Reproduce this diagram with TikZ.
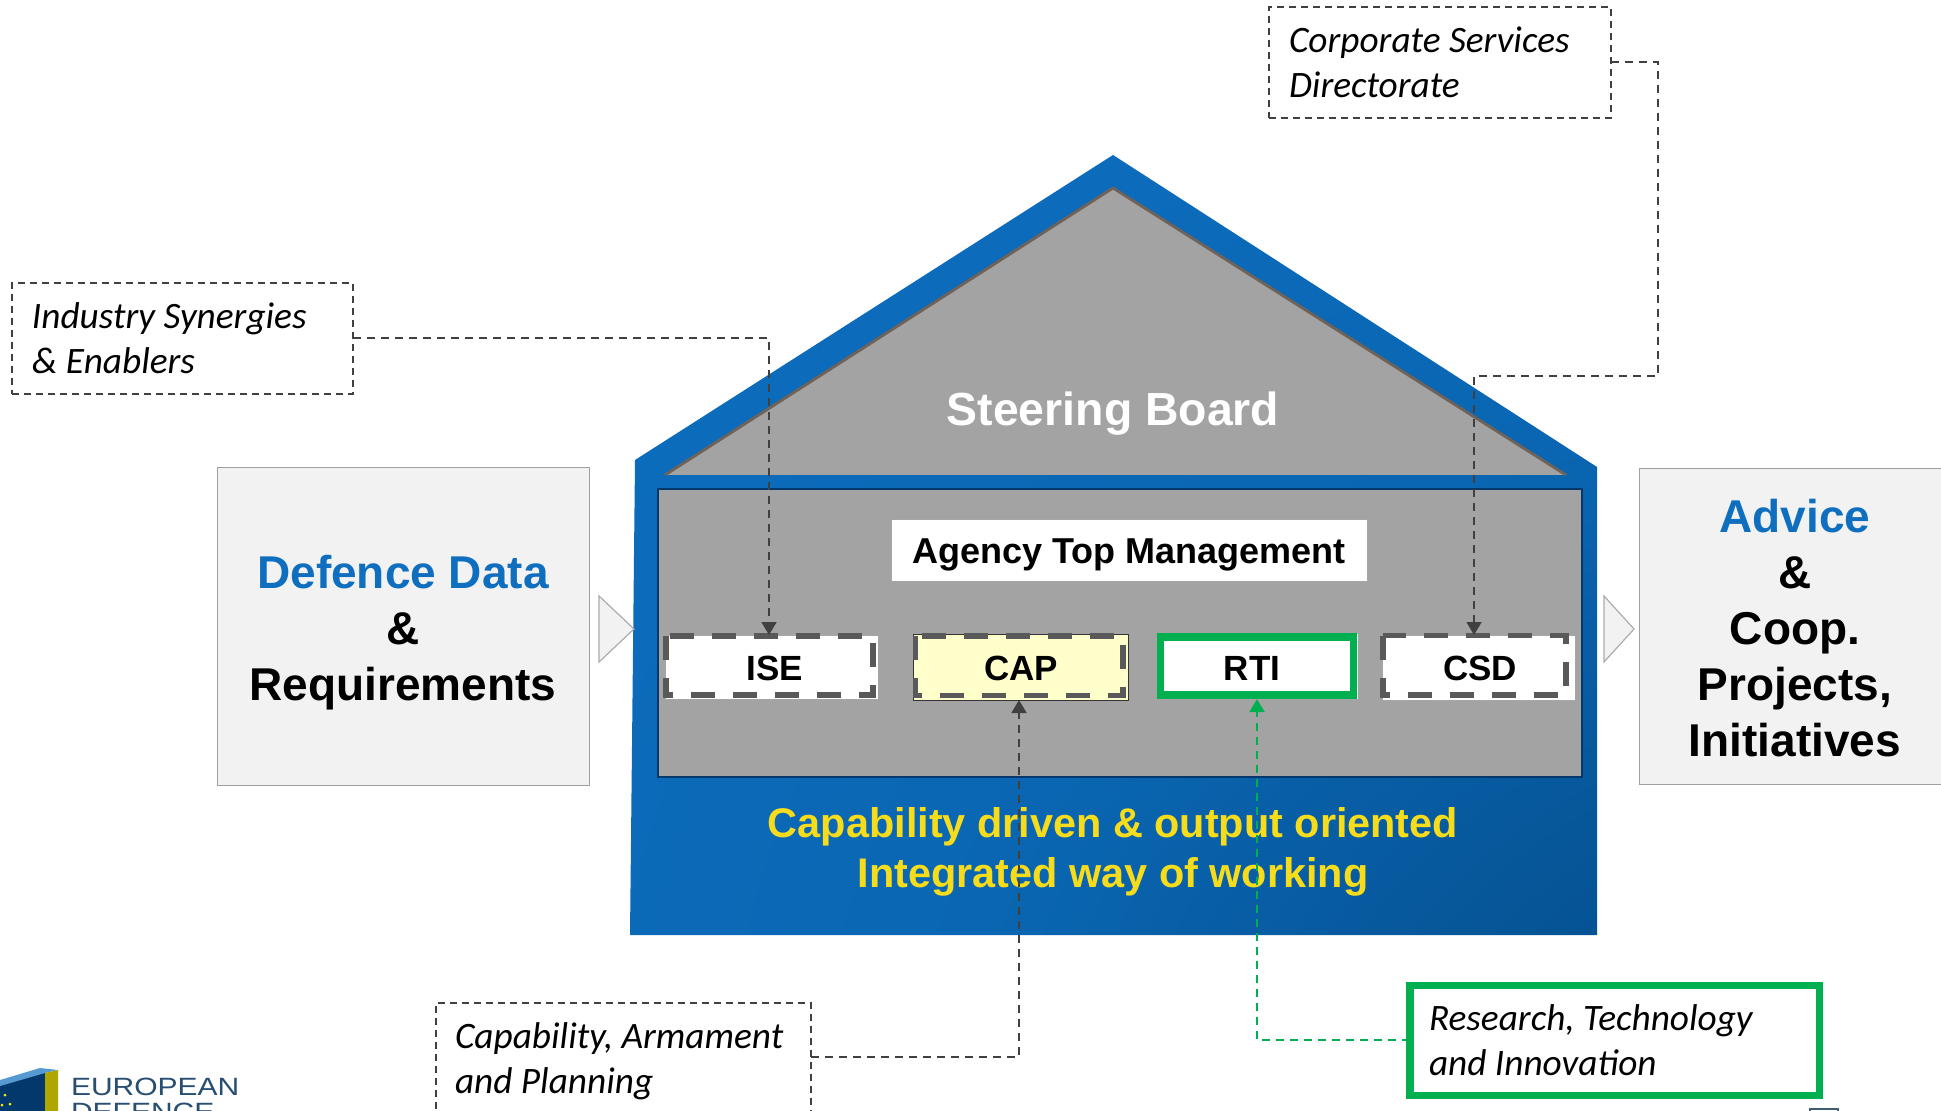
\documentclass[tikz,border=0pt]{standalone}
\usepackage{fontspec}
\setmainfont{Liberation Sans}
\newfontfamily\labelfont{Carlito}
\usetikzlibrary{arrows.meta}
\definecolor{hblue}{HTML}{0F74CA}
\definecolor{hmid}{HTML}{0A66B2}
\definecolor{hlow}{HTML}{044E8C}
\definecolor{hdark}{HTML}{03386C}
\definecolor{hgray}{HTML}{A3A3A3}
\definecolor{dgray}{HTML}{595959}
\definecolor{cgray}{HTML}{404040}
\definecolor{rgreen}{HTML}{00B050}
\definecolor{hyellow}{HTML}{F7DC1C}
\definecolor{lyellow}{HTML}{FFFFCC}
\definecolor{pale}{HTML}{F2F2F2}
\definecolor{dblue}{HTML}{0F6FBE}
\definecolor{roofedge}{HTML}{6F6258}
\pgfdeclareradialshading{houseshade}{\pgfpoint{50bp}{-50bp}}{
 color(0bp)=(hdark);
 color(20bp)=(hlow);
 color(45bp)=(hmid);
 color(70bp)=(hmid!50!hblue);
 color(88bp)=(hblue);
 color(170bp)=(hblue)}
\tikzset{
 x=0.5pt,y=-0.5pt,
 every node/.style={inner sep=0pt,outer sep=0pt},
 note/.style={draw=cgray,line width=0.65pt,dash pattern=on 3.5pt off 2.5pt,anchor=north west,fill=white},
 notetext/.style={anchor=north west,font=\labelfont\itshape\fontsize{18.65}{22.4}\selectfont,align=left,text=black},
 unit/.style={anchor=north west,draw=gray!70,line width=0.4pt},
 unittext/.style={font=\bfseries\fontsize{17.5}{21}\selectfont,text=black},
 dashunit/.style={draw=dgray,line width=2.8pt,dash pattern=on 12pt off 9pt},
 conn/.style={draw=cgray,line width=0.8pt,dash pattern=on 4pt off 3pt,-{Triangle[length=6.5pt,width=7.5pt]}},
 gconn/.style={draw=rgreen,line width=1pt,dash pattern=on 4pt off 3pt,-{Triangle[length=6.5pt,width=7.5pt]}},
 side/.style={anchor=north west,fill=pale,draw=gray!75,line width=0.5pt},
 sidetext/.style={font=\bfseries\fontsize{23}{28}\selectfont,align=center,text=black},
 arrowtri/.style={fill=pale,draw=gray!65,line width=0.6pt,line join=miter},
 logotext/.style={anchor=base west,xscale=1.2,font=\fontsize{12.5}{15}\selectfont,text=hdark!70!gray},
}
\begin{document}
\begin{tikzpicture}
\useasboundingbox (0,0) rectangle (1941,1111);
\begin{scope}
\clip (0,0) rectangle (1941,1111);
\fill[white] (0,0) rectangle (1941,1111);
% house
\shade[shading=houseshade] (1113,155) -- (1597,467) -- (1597,935) -- (630,935) -- (635,460) -- cycle;
\fill[hgray] (1113,188) -- (1566,475) -- (665,475) -- cycle;
\draw[roofedge,line width=1.4pt] (665,475) -- (1113,188) -- (1566,475);
\draw[hdark,line width=0.8pt,fill=hgray] (658,489) rectangle (1582,777);
\node[font=\bfseries\fontsize{23.2}{27}\selectfont,text=white] (steer) at (1113,414) {Steering Board};
% top management
\node[unit,fill=white,minimum width=238pt,minimum height=31pt] (atm) at (891,519) {};
\node[unittext,font=\bfseries\fontsize{18}{21}\selectfont] at (1129,555) {Agency Top Management};
% units
\node[unit,fill=white,minimum width=106.5pt,minimum height=32pt] (ise) at (665,635) {};
\node[unit,draw=black!80,fill=lyellow,minimum width=107.5pt,minimum height=33pt] (cap) at (913,634) {};
\node[unit,draw=gray!70,fill=white,minimum width=100.5pt,minimum height=33pt] (rti) at (1157,633) {};
\node[unit,fill=white,minimum width=96.5pt,minimum height=32.5pt] (csd) at (1382,635) {};
\draw[dashunit] (666,636) rectangle (873,695);
\draw[dashunit] (915.5,636) rectangle (1123,695.5);
\draw[rgreen,line width=3.75pt] (1160.5,637) rectangle (1353.5,695);
\draw[dashunit] (1383,635.5) rectangle (1566,695);
\node[unittext] at (775,668) {ISE};
\node[unittext] at (1021,668) {CAP};
\node[unittext] at (1252,668) {RTI};
\node[unittext] at (1480,668) {CSD};
% bottom text
\node[font=\bfseries\fontsize{20.7}{24.7}\selectfont,text=hyellow,align=center] (cap1) at (1113,852) {Capability driven \& output oriented\\Integrated way of working};
% side boxes
\node[side,minimum width=186pt,minimum height=158.5pt] (dd) at (217,468) {};
\node[sidetext] at (403,633) {\textcolor{dblue}{Defence Data}\\\&\\Requirements};
\node[side,minimum width=160pt,minimum height=157.5pt] (adv) at (1639,469) {};
\node[sidetext] at (1795,628) {\textcolor{dblue}{Advice}\\\&\\Coop.\\Projects,\\Initiatives};
\draw[arrowtri] (599,596) -- (634,629) -- (599,662) -- cycle;
\draw[arrowtri] (1604,596) -- (1634,629) -- (1604,662) -- cycle;
% notes
\node[note,minimum width=170.5pt,minimum height=55.5pt] (n1) at (12,283) {};
\node[notetext] at (32,303) {Industry Synergies\\\& Enablers};
\node[note,minimum width=171pt,minimum height=55.5pt] (n2) at (1269,7) {};
\node[notetext] at (1289,27) {Corporate Services\\Directorate};
\node[note,minimum width=187.5pt,minimum height=55.5pt] (n3) at (436,1003) {};
\node[notetext] at (455,1023) {Capability, Armament\\and Planning};
\node[anchor=north west,draw=rgreen,line width=3.75pt,fill=white,minimum width=204.75pt,minimum height=55pt] (n4) at (1410,985.5) {};
\node[notetext] at (1429,1005) {Research, Technology\\and Innovation};
% connectors
\coordinate (c1a) at (769,338);
\coordinate (c2a) at (1658,62);
\coordinate (c2b) at (1658,376);
\coordinate (c2c) at (1474,376);
\coordinate (c3a) at (1019,1057);
\coordinate (c4a) at (1257,1040);
\draw[conn] (n1.east |- c1a) -- (c1a) -- (c1a |- ise.north);
\draw[conn] (n2.east |- c2a) -- (c2a) -- (c2b) -- (c2c) -- (c2c |- csd.north);
\draw[conn] (n3.east |- c3a) -- (c3a) -- (c3a |- cap.south);
\draw[gconn] (n4.west |- c4a) -- (c4a) -- (c4a |- rti.south);
% logo
\fill[hdark] (0,1085) -- (45,1072) -- (45,1111) -- (0,1111) -- cycle;
\fill[dblue!70!white] (0,1080) -- (40,1068) -- (58,1070) -- (45,1073) -- (0,1086) -- cycle;
\fill[olive!70!yellow] (45,1073) -- (58,1070) -- (58,1111) -- (45,1111) -- cycle;
\fill[yellow] (5,1095) circle (1.5) (10,1104) circle (1.5) (2,1105) circle (1.5);
\node[logotext] (logo1) at (71,1095) {EUROPEAN};
\node[logotext] (logo2) at (71,1120) {DEFENCE};
% corner mark
\draw[hdark!50!gray,line width=1pt] (1810,1111) |- (1838,1108.5) -- (1838,1111);
\end{scope}
\end{tikzpicture}
\end{document}
